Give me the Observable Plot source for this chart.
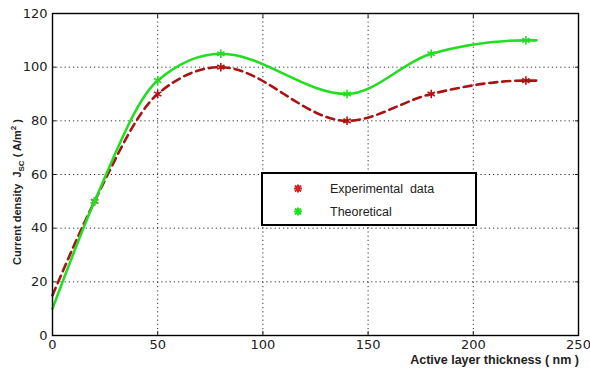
<!DOCTYPE html>
<html><head><meta charset="utf-8">
<script src="https://cdn.jsdelivr.net/npm/d3@7"></script>
<script src="https://cdn.jsdelivr.net/npm/@observablehq/plot@0.6"></script>
<style>
html,body{margin:0;padding:0;background:#fff;}
#chart{width:590px;height:369px;}
</style>
</head><body>
<div id="chart"></div>
<script>
const thickness = [0, 20, 50, 80, 140, 180, 225, 230];
const experimental = [15, 50, 90, 100, 80, 90, 95, 95];
const theoretical = [10, 50, 95, 105, 90, 105, 110, 110];
const markerThickness = [20, 50, 80, 140, 180, 225];
const xTicks = [0, 50, 100, 150, 200, 250];
const yTicks = [0, 20, 40, 60, 80, 100, 120];
const seriesNames = ["Experimental  data", "Theoretical"];
const xLabel = "Active layer thickness ( nm )";

const redLine = "#a81414", redMark = "#b51010", green = "#22dd22";

const expData = thickness.map((x, i) => ({x, y: experimental[i]}));
const thData = thickness.map((x, i) => ({x, y: theoretical[i]}));
const expMarks = expData.filter(d => markerThickness.includes(d.x));
const thMarks = thData.filter(d => markerThickness.includes(d.x));

const gridStyle = {stroke: "#000", strokeOpacity: 0.8, strokeDasharray: "1.2,3"};
const blank = () => "";
const tickFont = "'DejaVu Sans', sans-serif";

const svg = Plot.plot({
  width: 590, height: 369,
  marginLeft: 52, marginRight: 12, marginTop: 13, marginBottom: 34,
  style: {fontFamily: "'Liberation Sans', Arial, sans-serif", fontSize: "13px", color: "#222", background: "#fff", overflow: "visible"},
  x: {domain: [0, 250]},
  y: {domain: [0, 120]},
  marks: [
    Plot.gridX(xTicks, gridStyle),
    Plot.gridY(yTicks, gridStyle),
    Plot.axisX(xTicks, {anchor: "bottom", tickSize: 0, tickPadding: 4, label: null, fontSize: 13, fontFamily: tickFont}),
    Plot.axisY(yTicks, {anchor: "left", tickSize: 0, tickPadding: 5, label: null, fontSize: 13, fontFamily: tickFont}),
    Plot.axisX(xTicks, {anchor: "bottom", tickSize: -4, tickFormat: blank, label: null}),
    Plot.axisX(xTicks, {anchor: "top", tickSize: -4, tickFormat: blank, label: null}),
    Plot.axisY(yTicks, {anchor: "left", tickSize: -4, tickFormat: blank, label: null}),
    Plot.axisY(yTicks, {anchor: "right", tickSize: -4, tickFormat: blank, label: null}),
    Plot.line(expData, {x: "x", y: "y", stroke: redLine, strokeWidth: 2.6, strokeDasharray: "8,5", curve: "monotone-x"}),
    Plot.dot(expMarks, {x: "x", y: "y", symbol: "asterisk", r: 4, stroke: redMark, strokeWidth: 1.6}),
    Plot.line(thData, {x: "x", y: "y", stroke: green, strokeWidth: 2.6, curve: "monotone-x"}),
    Plot.dot(thMarks, {x: "x", y: "y", symbol: "asterisk", r: 4, stroke: green, strokeWidth: 1.6}),
    Plot.frame({stroke: "#000", strokeWidth: 1.4})
  ]
});

const s = d3.select(svg);
const font = "'Liberation Sans', Arial, sans-serif";
// x label
s.append("text").attr("x", 579).attr("y", 364).attr("text-anchor", "end")
  .attr("font-family", font).attr("font-weight", "bold").attr("font-size", 12.5).attr("fill", "#222")
  .text(xLabel);
// y label
const yl = s.append("text").attr("transform", "translate(21,192) rotate(-90)").attr("text-anchor", "middle")
  .attr("font-family", font).attr("font-weight", "bold").attr("font-size", 11).attr("fill", "#222");
yl.append("tspan").text("Current density  J");
yl.append("tspan").attr("font-size", 8).attr("dy", 3).text("SC");
yl.append("tspan").attr("dy", -3).text(" ( A/m");
yl.append("tspan").attr("font-size", 8).attr("dy", -5).text("2");
yl.append("tspan").attr("dy", 5).text(" )");

// legend
const lg = s.append("g");
lg.append("rect").attr("x", 262).attr("y", 173).attr("width", 214).attr("height", 52)
  .attr("fill", "#fff").attr("stroke", "#000").attr("stroke-width", 2);
const legendColors = ["#d42020", green];
seriesNames.forEach((name, i) => {
  const cy = 188.5 + i * 23;
  const m = lg.append("g").attr("transform", `translate(298,${cy})`).attr("stroke", legendColors[i]).attr("stroke-width", 2);
  m.append("line").attr("x1", -4).attr("x2", 4).attr("y1", 0).attr("y2", 0);
  m.append("line").attr("x1", 0).attr("x2", 0).attr("y1", -4).attr("y2", 4);
  m.append("line").attr("x1", -3).attr("x2", 3).attr("y1", -3).attr("y2", 3);
  m.append("line").attr("x1", -3).attr("x2", 3).attr("y1", 3).attr("y2", -3);
  lg.append("text").attr("x", 330).attr("y", cy + 4.5).attr("text-anchor", "start")
    .attr("font-family", font).attr("font-size", 12.5)
    .attr("fill", "#222").style("white-space", "pre").text(name);
});

document.getElementById("chart").appendChild(svg);
</script>
</body></html>
